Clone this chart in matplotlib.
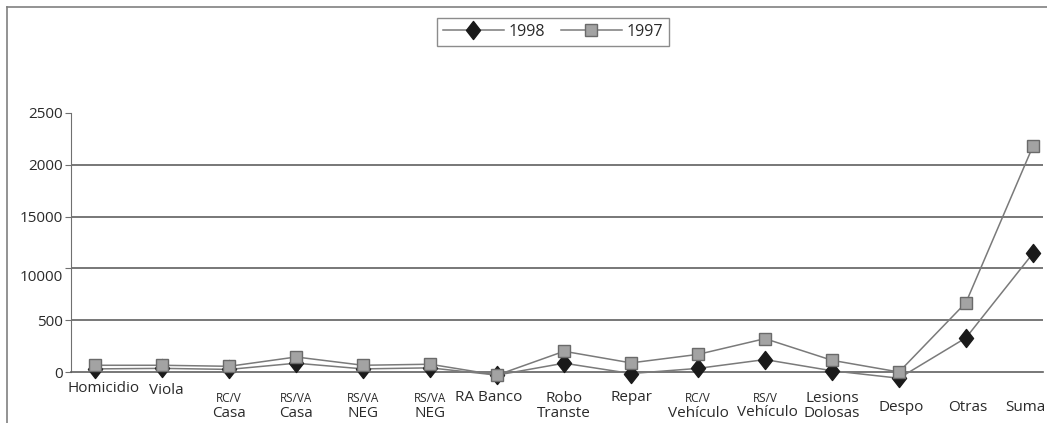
import matplotlib
matplotlib.use('Agg')
import matplotlib.pyplot as plt
import matplotlib.transforms as mtransforms
from matplotlib.lines import Line2D
from matplotlib.path import Path

plt.rcParams['font.family'] = ['Open Sans', 'DejaVu Sans']

# categories: (small top line, main line)
cat_top = ['', '', 'RC/V', 'RS/VA', 'RS/VA', 'RS/VA', '', 'Robo', '', 'RC/V', 'RS/V', 'Lesions', '', '', '']
cat_main = ['Homicidio', 'Viola', 'Casa', 'Casa', 'NEG', 'NEG', 'RA Banco', 'Transte', 'Repar',
            'Vehículo', 'Vehículo', 'Dolosas', 'Despo', 'Otras', 'Suma']
v1998 = [30, 35, 25, 85, 30, 40, -30, 85, -15, 35, 120, 12, -60, 330, 1145]
v1997 = [65, 65, 55, 145, 65, 75, -30, 200, 88, 170, 322, 113, 0, 670, 2180]
ytick_vals = [0, 500, 1000, 1500, 2000, 2500]
ytick_text = ['0', '500', '10000', '15000', '2000', '2500']

# label placement (pixels below the zero line, x shift in pixels)
main_dy = [16, 18, 41, 41, 41, 41, 25, 41, 25, 41, 40, 41, 35, 35, 35]
main_dx = [8, 4, 0, 0, 0, 0, -8, 0, 0, 0, 2, 0, 2, 2, -8]
top_dy = 26

fig = plt.figure(figsize=(10.47, 4.23), dpi=100)
ax = fig.add_axes([71 / 1047, 1 - 372 / 423, (1043 - 71) / 1047, (372 - 113) / 423])

x = list(range(len(cat_main)))
diamond = Path([(0, 1), (0.78, 0), (0, -1), (-0.78, 0), (0, 1)],
               [Path.MOVETO, Path.LINETO, Path.LINETO, Path.LINETO, Path.CLOSEPOLY])

ax.plot(x, v1998, color='#7a7a7a', lw=1.1, marker=diamond, ms=13,
        mfc='#1a1a1a', mec='#1a1a1a', clip_on=False, zorder=4, label='1998')
ax.plot(x, v1997, color='#7a7a7a', lw=1.1, marker='s', ms=9,
        mfc='#a3a3a3', mec='#6a6a6a', mew=1.0, clip_on=False, zorder=5, label='1997')

ax.set_xlim(-0.36, 14.15)
ax.set_ylim(0, 2500)
ax.set_yticks(ytick_vals)
ax.set_yticklabels(ytick_text)
ax.set_xticks([])
for v in ytick_vals[1:-1]:
    ax.axhline(v, color='#606060', lw=1.2, zorder=1)

for s in ['top', 'right']:
    ax.spines[s].set_visible(False)
ax.spines['left'].set_color('#707070')
ax.spines['bottom'].set_color('#606060')
ax.spines['bottom'].set_linewidth(1.2)
ax.tick_params(axis='y', length=4, color='#707070', labelsize=11, labelcolor='#2a2a2a', pad=2)
# the "10000" label sits a little below its line in the original
lbl = ax.get_yticklabels()[2]
lbl.set_transform(lbl.get_transform() + mtransforms.ScaledTranslation(0, -7 / 100, fig.dpi_scale_trans))

for i in x:
    ax.annotate(cat_main[i], xy=(i, 0), xytext=(main_dx[i] * 0.72, -main_dy[i] * 0.72),
                textcoords='offset points', ha='center', va='center',
                fontsize=11, color='#2a2a2a', annotation_clip=False)
    if cat_top[i]:
        small = cat_top[i] != 'Robo' and cat_top[i] != 'Lesions'
        ax.annotate(cat_top[i], xy=(i, 0), xytext=(0, -top_dy * 0.72),
                    textcoords='offset points', ha='center', va='center',
                    fontsize=8.5 if small else 11, color='#2a2a2a', annotation_clip=False)

leg = fig.legend(loc='center', bbox_to_anchor=(553 / 1047, 1 - 32 / 423), ncol=2,
                 handlelength=3.8, fontsize=11.5, frameon=True, fancybox=False,
                 borderpad=0.4, columnspacing=1.0, handletextpad=0.3)
leg.get_frame().set_edgecolor('#707070')
leg.get_frame().set_linewidth(1.0)
for t in leg.get_texts():
    t.set_color('#2a2a2a')

# scanned page frame
fig.add_artist(Line2D([7 / 1047, 1], [1 - 7 / 423, 1 - 7 / 423], color='#808080', lw=1.2))
fig.add_artist(Line2D([7 / 1047, 7 / 1047], [0, 1 - 7 / 423], color='#808080', lw=1.2))

fig.savefig('out.png', dpi=100, facecolor='white')
